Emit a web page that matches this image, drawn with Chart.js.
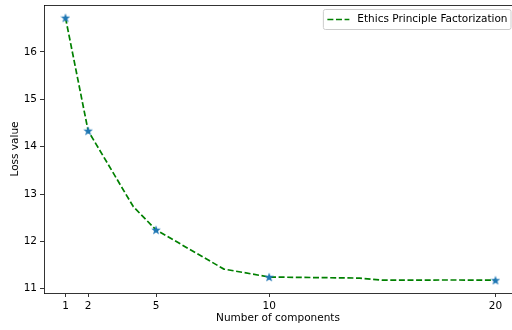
<!DOCTYPE html>
<html>
<head>
<meta charset="utf-8">
<script src="https://cdn.jsdelivr.net/npm/chart.js@4.4.1/dist/chart.umd.min.js"></script>
<style>
  html, body { margin: 0; padding: 0; overflow: hidden; background: #ffffff; }
  canvas { display: block; }
</style>
</head>
<body>
<canvas id="c" width="512" height="330"></canvas>
<script>
// ---- data ----
const seriesLabel = "Ethics Principle Factorization";
const components = [1, 2, 4, 5, 8, 10, 14, 15, 18, 20];
const lossValues = [16.72, 14.335, 12.73, 12.243, 11.415, 11.247, 11.225, 11.18, 11.185, 11.18];
const markedComponents = [1, 2, 5, 10, 20];
const xTickValues = [1, 2, 5, 10, 20];
const yTickValues = [11, 12, 13, 14, 15, 16];
const xAxisTitle = "Number of components";
const yAxisTitle = "Loss value";

// ---- styles ----
const FONT = "'DejaVu Sans', 'Liberation Sans', sans-serif";
const FSIZE = 10.5;
const lineColor = "#008000";
const markerColor = "#1f77b4";
const dashPattern = [6, 2.6];

// filled five-point star marker (matplotlib '*')
function makeStar(size, color) {
  const cv = document.createElement('canvas');
  cv.width = size; cv.height = size;
  const g = cv.getContext('2d');
  const cx = size / 2, cy = size / 2 + 0.4;
  const R = size / 2, r = R * 0.42;
  g.beginPath();
  for (let i = 0; i < 10; i++) {
    const rad = (i % 2 === 0) ? R : r;
    const a = -Math.PI / 2 + i * Math.PI / 5;
    const px = cx + rad * Math.cos(a), py = cy + rad * Math.sin(a);
    if (i === 0) g.moveTo(px, py); else g.lineTo(px, py);
  }
  g.closePath();
  g.fillStyle = color;
  g.fill();
  return cv;
}
const starImg = makeStar(10, markerColor);

const framePlugin = {
  id: 'frame',
  afterDraw(chart) {
    const { ctx, chartArea: a } = chart;
    ctx.save();
    // top spine
    ctx.strokeStyle = '#000000';
    ctx.lineWidth = 0.8;
    ctx.beginPath();
    ctx.moveTo(a.left, a.top + 0.5);
    ctx.lineTo(a.right, a.top + 0.5);
    ctx.stroke();

    // legend (matplotlib style, upper right of the axes box, whose right edge lies just past the canvas)
    const ds = chart.data.datasets[0];
    ctx.font = FSIZE + "px " + FONT;
    const tw = ctx.measureText(ds.label).width;
    const right = a.right - 1;
    const textX = right - 3.5 - tw;
    const left = textX - 34;
    const top = a.top + 4.5, bottom = a.top + 24.5;
    const rr = 2;
    ctx.beginPath();
    ctx.moveTo(left + rr, top);
    ctx.lineTo(right - rr, top);
    ctx.quadraticCurveTo(right, top, right, top + rr);
    ctx.lineTo(right, bottom - rr);
    ctx.quadraticCurveTo(right, bottom, right - rr, bottom);
    ctx.lineTo(left + rr, bottom);
    ctx.quadraticCurveTo(left, bottom, left, bottom - rr);
    ctx.lineTo(left, top + rr);
    ctx.quadraticCurveTo(left, top, left + rr, top);
    ctx.closePath();
    ctx.fillStyle = 'rgba(255,255,255,0.8)';
    ctx.fill();
    ctx.strokeStyle = '#cccccc';
    ctx.lineWidth = 1;
    ctx.stroke();

    const midY = (top + bottom) / 2;
    ctx.strokeStyle = lineColor;
    ctx.lineWidth = 1.7;
    ctx.setLineDash(dashPattern);
    ctx.beginPath();
    ctx.moveTo(left + 4, midY);
    ctx.lineTo(left + 26, midY);
    ctx.stroke();
    ctx.setLineDash([]);

    ctx.fillStyle = '#000000';
    ctx.textBaseline = 'middle';
    ctx.textAlign = 'left';
    ctx.fillText(ds.label, textX, midY);
    ctx.restore();
  }
};

const points = components.map((c, i) => ({ x: c, y: lossValues[i] }));

new Chart(document.getElementById('c'), {
  type: 'line',
  data: {
    datasets: [{
      label: seriesLabel,
      data: points,
      borderColor: lineColor,
      backgroundColor: lineColor,
      borderWidth: 1.7,
      borderDash: dashPattern,
      fill: false,
      tension: 0,
      pointStyle: starImg,
      pointRadius: ctx => markedComponents.includes(ctx.raw && ctx.raw.x) ? 4 : 0,
      pointHoverRadius: 0,
      clip: false
    }]
  },
  options: {
    responsive: false,
    animation: false,
    devicePixelRatio: 1,
    layout: { autoPadding: false, padding: { top: 5, right: 0, left: 0, bottom: 0 } },
    plugins: {
      legend: { display: false },
      tooltip: { enabled: false }
    },
    scales: {
      x: {
        type: 'linear',
        min: 0.05,
        max: 20.73,
        afterBuildTicks: s => { s.ticks = xTickValues.map(v => ({ value: v })); },
        afterFit: s => { s.height = 37; s.paddingLeft = 0; s.paddingRight = 0; },
        grid: { display: true, drawOnChartArea: false, drawTicks: true, tickLength: 4, color: '#000000', lineWidth: 0.8 },
        border: { display: true, color: '#000000', width: 0.8 },
        ticks: { color: '#000000', font: { family: FONT, size: FSIZE }, padding: 3, maxRotation: 0, autoSkip: false },
        title: { display: true, text: xAxisTitle, color: '#000000', font: { family: FONT, size: FSIZE }, padding: { top: 0, bottom: 5 } }
      },
      y: {
        type: 'linear',
        min: 10.91,
        max: 16.99,
        afterBuildTicks: s => { s.ticks = yTickValues.map(v => ({ value: v })); },
        afterFit: s => { s.width = 44; s.paddingTop = 0; s.paddingBottom = 0; },
        grid: { display: true, drawOnChartArea: false, drawTicks: true, tickLength: 4, color: '#000000', lineWidth: 0.8 },
        border: { display: true, color: '#000000', width: 0.8 },
        ticks: { color: '#000000', font: { family: FONT, size: FSIZE }, padding: 3, autoSkip: false },
        title: { display: true, text: yAxisTitle, color: '#000000', font: { family: FONT, size: FSIZE }, padding: { top: 9, bottom: 0 } }
      }
    }
  },
  plugins: [framePlugin]
});
</script>
</body>
</html>
